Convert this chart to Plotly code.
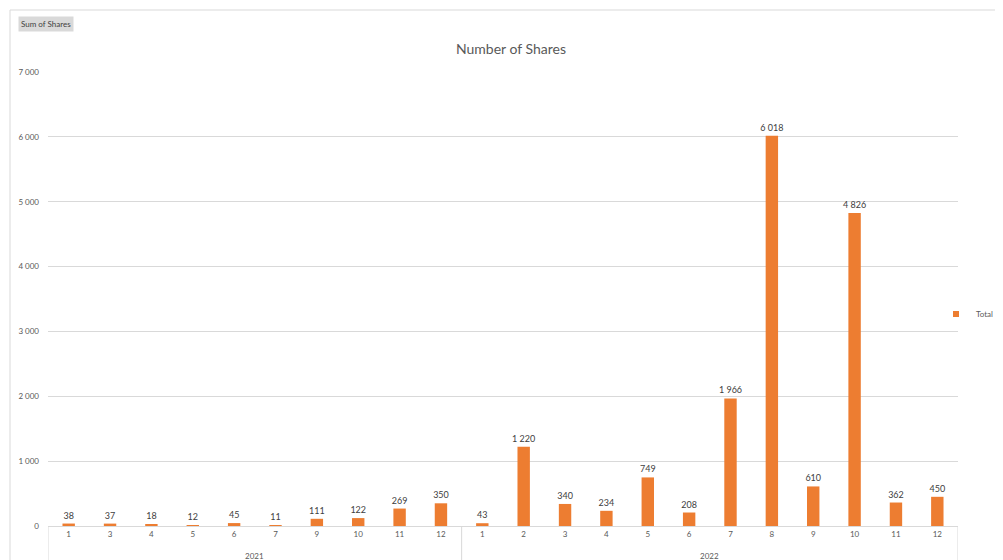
import plotly.graph_objects as go

years = ["2021"] * 10 + ["2022"] * 12
months = ["1", "3", "4", "5", "6", "7", "9", "10", "11", "12",
          "1", "2", "3", "4", "5", "6", "7", "8", "9", "10", "11", "12"]
shares = [38, 37, 18, 12, 45, 11, 111, 122, 269, 350,
          43, 1220, 340, 234, 749, 208, 1966, 6018, 610, 4826, 362, 450]
year_labels = ["2021", "2022"]

ORANGE = "#ED7D31"
GRID = "#D9D9D9"
TXT = "#595959"
FONT = "Lato, Liberation Sans, sans-serif"

# the page body has an 8px margin, so figure coords = screen coords - 8
OFF = 8
W, H = 1003, 560
L, T = 48 - OFF, 72 - OFF
R = W - (958 - OFF)
B = H - (526 - OFF)
pw = W - L - R
ph = H - T - B

def px_x(x):
    return (x - OFF - L) / pw

def px_y(y):
    return (H - B - (y - OFF)) / ph

idx = list(range(len(shares)))

fig = go.Figure()
fig.add_trace(go.Bar(
    x=idx, y=shares, name="Total", showlegend=False,
    marker=dict(color=ORANGE, line=dict(width=0)),
    texttemplate="%{y:,}", textposition="outside", cliponaxis=False,
    textfont=dict(size=9, color="#404040", family=FONT),
    outsidetextfont=dict(size=9, color="#404040", family=FONT),
    hoverinfo="skip",
))
fig.add_trace(go.Scatter(
    x=[None], y=[None], mode="markers", name="Total",
    marker=dict(symbol="square", size=6, color=ORANGE),
))

# group boundaries and centers derived from the year list
bounds = [-0.5]
centers = []
start = 0
for i in range(1, len(years) + 1):
    if i == len(years) or years[i] != years[i - 1]:
        bounds.append(i - 0.5)
        centers.append((start + i - 1) / 2)
        start = i

shapes = [dict(type="rect", xref="paper", yref="paper",
               x0=px_x(10), x1=px_x(1020), y0=px_y(620), y1=px_y(10),
               line=dict(color=GRID, width=1), layer="below")]
for b in bounds:
    shapes.append(dict(type="line", xref="x", yref="paper", x0=b, x1=b,
                       y0=0, y1=px_y(600), line=dict(color=GRID, width=1)))

annotations = [dict(text="Sum of Shares", xref="paper", yref="paper",
                    x=px_x(18), y=px_y(16), xanchor="left", yanchor="top",
                    showarrow=False, bgcolor="#D9D9D9",
                    font=dict(size=8, color="#404040"), borderpad=2)]
for c, yl in zip(centers, year_labels):
    annotations.append(dict(text=yl, xref="x", yref="paper", x=c, y=px_y(556),
                            xanchor="center", yanchor="middle", showarrow=False,
                            font=dict(size=8, color=TXT)))

fig.update_layout(
    width=W, height=H,
    margin=dict(l=L, r=R, t=T, b=B, autoexpand=False),
    paper_bgcolor="white", plot_bgcolor="white",
    separators=". ",
    font=dict(family=FONT, color=TXT, size=8),
    bargap=0.7,
    uniformtext=dict(minsize=9, mode="show"),
    title=dict(text="Number of Shares", x=(511 - OFF) / W, xanchor="center",
               y=1 - (49 - OFF) / H, yanchor="middle",
               font=dict(size=14, color=TXT, family=FONT)),
    showlegend=True,
    legend=dict(x=px_x(936), y=px_y(314), xanchor="left", yanchor="middle",
                font=dict(size=8, color=TXT), itemwidth=30,
                bgcolor="rgba(0,0,0,0)"),
    xaxis=dict(range=[-0.5, len(shares) - 0.5], tickvals=idx, ticktext=months,
               showline=True, linecolor=GRID, linewidth=1, showgrid=False,
               zeroline=False, ticks="", automargin=False,
               tickfont=dict(size=8, color=TXT)),
    yaxis=dict(range=[0, 7000], dtick=1000, tickformat=",", showgrid=True,
               gridcolor=GRID, gridwidth=1, zeroline=False, showline=False,
               ticks="", ticklabelstandoff=8, automargin=False,
               tickfont=dict(size=8, color=TXT)),
    shapes=shapes,
    annotations=annotations,
)

fig.write_html("out.html")
